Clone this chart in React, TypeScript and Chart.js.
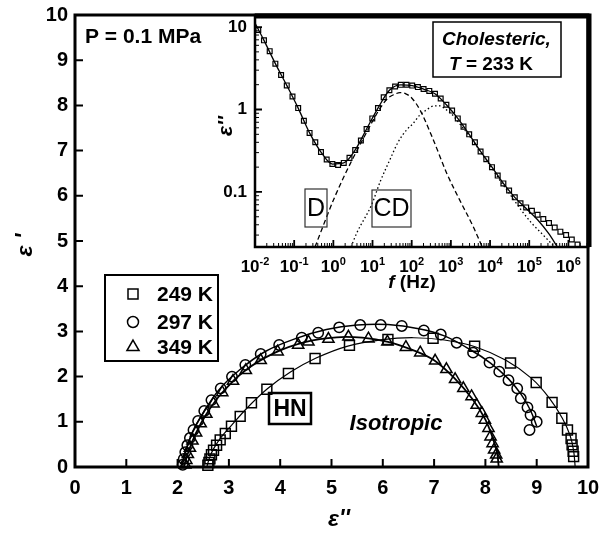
import React, { useEffect, useRef } from 'react';
import { Chart, registerables } from 'chart.js';

Chart.register(...registerables);

const FONT = "'Liberation Sans', Arial, Helvetica, sans-serif";

// ---------- main panel: Cole–Cole arcs at P = 0.1 MPa ----------
const sq249X = [2.59, 2.61, 2.63, 2.66, 2.7, 2.76, 2.83, 2.93, 3.05, 3.22, 3.44, 3.74, 4.16, 4.68, 5.35, 6.1, 6.98, 7.79, 8.49, 8.99, 9.3, 9.49, 9.6, 9.67, 9.69, 9.71, 9.72];
const sq249Y = [0.04, 0.1, 0.18, 0.27, 0.37, 0.48, 0.6, 0.74, 0.9, 1.12, 1.42, 1.72, 2.07, 2.4, 2.69, 2.82, 2.85, 2.67, 2.3, 1.87, 1.43, 1.08, 0.82, 0.63, 0.49, 0.35, 0.23];

const ci297X = [2.1, 2.12, 2.15, 2.19, 2.24, 2.31, 2.4, 2.52, 2.66, 2.84, 3.06, 3.32, 3.62, 3.98, 4.42, 4.74, 5.15, 5.56, 5.96, 6.37, 6.8, 7.13, 7.44, 7.76, 8.08, 8.27, 8.45, 8.62, 8.69, 8.82, 8.88, 9.0, 8.86];
const ci297Y = [0.05, 0.18, 0.33, 0.48, 0.64, 0.82, 1.02, 1.24, 1.48, 1.74, 2.0, 2.26, 2.5, 2.7, 2.86, 2.97, 3.09, 3.14, 3.14, 3.12, 3.02, 2.93, 2.75, 2.53, 2.31, 2.11, 1.92, 1.74, 1.52, 1.32, 1.15, 1.0, 0.82];

const tr349X = [2.15, 2.17, 2.2, 2.24, 2.29, 2.36, 2.45, 2.56, 2.7, 2.87, 3.08, 3.33, 3.62, 3.95, 4.35, 4.55, 4.94, 5.33, 5.72, 6.09, 6.45, 6.73, 7.02, 7.24, 7.41, 7.57, 7.73, 7.83, 7.93, 7.99, 8.06, 8.1, 8.14, 8.17, 8.21, 8.22];
const tr349Y = [0.05, 0.15, 0.28, 0.42, 0.58, 0.76, 0.96, 1.17, 1.4, 1.65, 1.9, 2.14, 2.36, 2.55, 2.7, 2.77, 2.83, 2.88, 2.84, 2.77, 2.65, 2.53, 2.35, 2.16, 1.94, 1.74, 1.56, 1.37, 1.19, 1.04, 0.86, 0.67, 0.52, 0.38, 0.27, 0.18];

// HN fit curves
const fit249X = [2.57, 2.62, 2.7, 2.85, 3.05, 3.35, 3.75, 4.2, 4.7, 5.3, 6.0, 6.6, 7.2, 7.8, 8.4, 8.9, 9.25, 9.5, 9.65, 9.72, 9.75];
const fit249Y = [0, 0.2, 0.4, 0.66, 0.92, 1.3, 1.73, 2.1, 2.41, 2.67, 2.82, 2.86, 2.81, 2.66, 2.36, 1.96, 1.52, 1.08, 0.7, 0.36, 0];
const fit297X = [2.08, 2.15, 2.3, 2.5, 2.8, 3.2, 3.7, 4.3, 4.9, 5.5, 6.1, 6.7, 7.2, 7.7, 8.1, 8.45, 8.7, 8.88, 9.0];
const fit297Y = [0, 0.33, 0.8, 1.2, 1.7, 2.14, 2.55, 2.84, 3.04, 3.14, 3.15, 3.06, 2.9, 2.6, 2.3, 1.95, 1.6, 1.25, 0.9];
const fit349X = [2.12, 2.2, 2.35, 2.55, 2.85, 3.3, 3.9, 4.5, 5.1, 5.6, 6.1, 6.6, 7.0, 7.4, 7.75, 8.0, 8.15, 8.23, 8.26];
const fit349Y = [0, 0.3, 0.73, 1.15, 1.62, 2.12, 2.53, 2.77, 2.87, 2.86, 2.77, 2.58, 2.36, 1.96, 1.5, 1.05, 0.62, 0.3, 0];

const mainTicks = [0, 1, 2, 3, 4, 5, 6, 7, 8, 9, 10];
const legendLabels = ['249 K', '297 K', '349 K'];

// ---------- inset: loss spectrum, cholesteric phase at 233 K ----------
const insetFreq = [0.01213, 0.01694, 0.02371, 0.03311, 0.04634, 0.06471, 0.09057, 0.1265, 0.177, 0.2472, 0.3459, 0.4831, 0.6761, 0.9441, 1.321, 1.845, 2.582, 3.606, 5.047, 7.047, 9.863, 13.77, 19.28, 26.92, 37.67, 52.6, 73.62, 102.8, 143.9, 200.9, 281.2, 392.6, 549.5, 767.4, 1074, 1500, 2099, 2931, 4102, 5728, 8017, 11190, 15670, 21880, 30620, 42760, 59840, 83560, 116900, 163300, 228600, 319200, 446700, 623700, 873000, 1219000, 1706000];
const insetEps = [9.2, 6.9, 5.1, 3.6, 2.62, 1.96, 1.44, 1.04, 0.73, 0.52, 0.4, 0.305, 0.248, 0.218, 0.212, 0.225, 0.259, 0.323, 0.42, 0.58, 0.78, 1.04, 1.41, 1.71, 1.9, 1.99, 2.0, 1.95, 1.87, 1.77, 1.68, 1.55, 1.36, 1.14, 0.97, 0.78, 0.62, 0.5, 0.4, 0.31, 0.25, 0.2, 0.158, 0.127, 0.104, 0.086, 0.073, 0.065, 0.059, 0.053, 0.047, 0.042, 0.037, 0.033, 0.03, 0.0265, 0.023];

const insetFitFreq = [0.01, 0.01694, 0.03311, 0.06471, 0.1265, 0.2472, 0.4831, 0.9441, 1.845, 3.606, 7.047, 13.77, 26.92, 52.6, 102.8, 200.9, 392.6, 767.4, 1500, 2931, 5728, 11190, 21880, 42760, 83560, 163300, 319200, 525000];
const insetFitEps = [11.2, 6.9, 3.6, 1.96, 1.04, 0.52, 0.305, 0.218, 0.225, 0.323, 0.58, 1.04, 1.71, 1.99, 1.95, 1.77, 1.55, 1.14, 0.78, 0.5, 0.31, 0.2, 0.127, 0.086, 0.063, 0.046, 0.031, 0.0215];

// Debye (D) component
const debyeFreq = [0.339, 1.096, 2.951, 5.754, 10, 15.85, 25.12, 35.48, 50.12, 70.79, 100, 162.2, 354.8, 776.2, 1698, 3715, 6310];
const debyeEps = [0.0215, 0.088, 0.24, 0.44, 0.72, 1.05, 1.38, 1.52, 1.6, 1.55, 1.38, 0.99, 0.43, 0.17, 0.079, 0.038, 0.0215];

// Cole–Davidson (CD) component
const cdFreq = [2.818, 3.981, 9.484, 15.85, 27.54, 44.67, 74.13, 109.6, 158.5, 239.9, 354.8, 501.2, 794.3, 1047, 1862, 3388, 6026, 10960, 19500, 35480, 63100, 114800, 199500, 446700];
const cdEps = [0.0215, 0.032, 0.07, 0.135, 0.244, 0.4, 0.565, 0.68, 0.85, 0.99, 1.1, 1.11, 0.98, 0.88, 0.63, 0.44, 0.295, 0.197, 0.13, 0.088, 0.06, 0.042, 0.032, 0.0215];

const insetXDecades = [-2, -1, 0, 1, 2, 3, 4, 5, 6];
const insetYTicks = [0.1, 1, 10];
const insetYTickLabels = ['0.1', '1', '10'];

const pts = (xs: number[], ys: number[]) => xs.map((x, i) => ({ x, y: ys[i] }));

type Run = { text: string; font: string; dy?: number };

function drawRuns(ctx: CanvasRenderingContext2D, runs: Run[], x: number, y: number, align: 'left' | 'center') {
  let total = 0;
  for (const r of runs) {
    ctx.font = r.font;
    total += ctx.measureText(r.text).width;
  }
  let cx = align === 'center' ? x - total / 2 : x;
  ctx.textAlign = 'left';
  for (const r of runs) {
    ctx.font = r.font;
    ctx.fillText(r.text, cx, y + (r.dy || 0));
    cx += ctx.measureText(r.text).width;
  }
}

function markerPath(ctx: CanvasRenderingContext2D, kind: number, x: number, y: number) {
  ctx.beginPath();
  if (kind === 0) {
    ctx.rect(x - 5, y - 5, 10, 10);
  } else if (kind === 1) {
    ctx.arc(x, y, 5.5, 0, Math.PI * 2);
  } else {
    const r = 7;
    ctx.moveTo(x, y - r);
    ctx.lineTo(x + 0.866 * r, y + 0.5 * r);
    ctx.lineTo(x - 0.866 * r, y + 0.5 * r);
    ctx.closePath();
  }
  ctx.stroke();
}

const mainDecor = {
  id: 'mainDecor',
  afterDraw(chart: any) {
    const { ctx, chartArea: a, scales } = chart;
    const xs = scales.x;
    const ys = scales.y;
    ctx.save();
    ctx.strokeStyle = '#000';
    ctx.fillStyle = '#000';
    ctx.lineWidth = 3;
    ctx.strokeRect(a.left, a.top, a.right - a.left, a.bottom - a.top);

    ctx.lineWidth = 2;
    ctx.beginPath();
    for (const v of mainTicks) {
      const px = xs.getPixelForValue(v);
      ctx.moveTo(px, a.bottom);
      ctx.lineTo(px, a.bottom - 8);
      const py = ys.getPixelForValue(v);
      ctx.moveTo(a.left, py);
      ctx.lineTo(a.left + 8, py);
    }
    ctx.stroke();

    ctx.font = `bold 20px ${FONT}`;
    ctx.textBaseline = 'middle';
    for (const v of mainTicks) {
      ctx.textAlign = 'center';
      ctx.fillText(String(v), xs.getPixelForValue(v), a.bottom + 21);
      ctx.textAlign = 'right';
      ctx.fillText(String(v), a.left - 7, ys.getPixelForValue(v));
    }

    // axis titles
    ctx.textAlign = 'center';
    ctx.font = `italic bold 23px ${FONT}`;
    ctx.fillText("ε''", 339, 520);
    ctx.save();
    ctx.translate(26, 245);
    ctx.rotate(-Math.PI / 2);
    ctx.fillText("ε '", 0, 0);
    ctx.restore();

    // pressure note
    ctx.textAlign = 'left';
    ctx.font = `bold 21px ${FONT}`;
    ctx.fillText('P = 0.1 MPa', 85, 37);

    // legend
    ctx.lineWidth = 2;
    ctx.strokeRect(105, 275, 113, 86);
    const rows = [294, 322, 347];
    ctx.lineWidth = 1.5;
    rows.forEach((ry, i) => markerPath(ctx, i, 133, ry));
    ctx.font = `bold 21px ${FONT}`;
    ctx.textAlign = 'left';
    rows.forEach((ry, i) => ctx.fillText(legendLabels[i], 157, ry + 1));

    // HN label
    ctx.lineWidth = 2.5;
    ctx.strokeRect(269, 393, 42, 31);
    ctx.font = `bold 23px ${FONT}`;
    ctx.textAlign = 'center';
    ctx.fillText('HN', 290, 410);

    ctx.font = `italic bold 22px ${FONT}`;
    ctx.fillText('Isotropic', 396, 424);
    ctx.restore();
  },
};

const insetDecor = {
  id: 'insetDecor',
  afterDraw(chart: any) {
    const { ctx, chartArea: a, scales } = chart;
    const xs = scales.x;
    const ys = scales.y;
    ctx.save();
    ctx.strokeStyle = '#000';
    ctx.fillStyle = '#000';

    // frame
    ctx.lineWidth = 2.5;
    ctx.strokeRect(a.left, a.top, a.right - a.left, a.bottom - a.top);
    ctx.lineWidth = 5;
    ctx.beginPath();
    ctx.moveTo(a.left, a.top + 1);
    ctx.lineTo(a.right + 1, a.top + 1);
    ctx.lineTo(a.right + 1, a.bottom);
    ctx.stroke();

    // ticks
    const xMax = xs.max;
    const yMin = ys.min;
    const yMax = ys.max;
    ctx.lineWidth = 1;
    ctx.beginPath();
    for (const d of insetXDecades) {
      for (let m = 2; m <= 9; m++) {
        const v = m * Math.pow(10, d);
        if (v > xMax) continue;
        const px = xs.getPixelForValue(v);
        ctx.moveTo(px, a.bottom);
        ctx.lineTo(px, a.bottom - 4);
      }
    }
    for (const d of [-2, -1, 0, 1]) {
      for (let m = 2; m <= 9; m++) {
        const v = m * Math.pow(10, d);
        if (v < yMin || v > yMax) continue;
        const py = ys.getPixelForValue(v);
        ctx.moveTo(a.left, py);
        ctx.lineTo(a.left + 4, py);
      }
    }
    ctx.stroke();
    ctx.lineWidth = 1.8;
    ctx.beginPath();
    for (const d of insetXDecades) {
      const px = xs.getPixelForValue(Math.pow(10, d));
      ctx.moveTo(px, a.bottom);
      ctx.lineTo(px, a.bottom - 7);
    }
    for (const v of insetYTicks) {
      const py = ys.getPixelForValue(v);
      ctx.moveTo(a.left, py);
      ctx.lineTo(a.left + 7, py);
    }
    ctx.stroke();

    // tick labels
    ctx.textBaseline = 'alphabetic';
    for (const d of insetXDecades) {
      const px = xs.getPixelForValue(Math.pow(10, d));
      drawRuns(
        ctx,
        [
          { text: '10', font: `bold 17px ${FONT}` },
          { text: String(d), font: `bold 11px ${FONT}`, dy: -7 },
        ],
        px,
        272,
        'center'
      );
    }
    ctx.textBaseline = 'middle';
    ctx.textAlign = 'right';
    ctx.font = `bold 17px ${FONT}`;
    insetYTicks.forEach((v, i) => ctx.fillText(insetYTickLabels[i], a.left - 8, ys.getPixelForValue(v)));

    // axis titles
    ctx.textBaseline = 'middle';
    drawRuns(
      ctx,
      [
        { text: 'f', font: `italic bold 19px ${FONT}` },
        { text: ' (Hz)', font: `bold 19px ${FONT}` },
      ],
      412,
      283,
      'center'
    );
    ctx.save();
    ctx.translate(226, 126);
    ctx.rotate(-Math.PI / 2);
    ctx.textAlign = 'center';
    ctx.font = `italic bold 21px ${FONT}`;
    ctx.fillText("ε''", 0, 0);
    ctx.restore();

    // phase label
    ctx.lineWidth = 1.5;
    ctx.strokeRect(433, 22, 128, 55);
    ctx.textBaseline = 'middle';
    drawRuns(ctx, [{ text: 'Cholesteric,', font: `italic bold 19px ${FONT}` }], 442, 40, 'left');
    drawRuns(
      ctx,
      [
        { text: 'T', font: `italic bold 19px ${FONT}` },
        { text: ' = 233 K', font: `bold 19px ${FONT}` },
      ],
      449,
      65,
      'left'
    );

    // component labels
    ctx.strokeStyle = '#333';
    ctx.lineWidth = 1.2;
    ctx.strokeRect(305, 189, 22, 38);
    ctx.strokeRect(372, 190, 39, 37);
    ctx.font = `25px ${FONT}`;
    ctx.textAlign = 'center';
    ctx.fillText('D', 316, 209);
    ctx.fillText('CD', 391.5, 209);
    ctx.restore();
  },
};

export default function App() {
  const mainRef = useRef<HTMLCanvasElement | null>(null);
  const insetRef = useRef<HTMLCanvasElement | null>(null);

  useEffect(() => {
    if (!mainRef.current || !insetRef.current) return;

    const fitLine = (xs: number[], ys: number[], w: number) => ({
      data: pts(xs, ys),
      showLine: true,
      borderColor: '#000',
      borderWidth: w,
      pointRadius: 0,
      tension: 0.35,
      fill: false,
    });
    const markers = (xs: number[], ys: number[], style: string, r: number) => ({
      data: pts(xs, ys),
      showLine: false,
      pointStyle: style,
      pointRadius: r,
      pointBorderWidth: 1.5,
      pointBorderColor: '#000',
      pointBackgroundColor: 'rgba(0,0,0,0)',
      clip: false,
    });

    const mainChart = new Chart(mainRef.current, {
      type: 'scatter',
      data: {
        datasets: [
          fitLine(fit249X, fit249Y, 1.2),
          fitLine(fit297X, fit297Y, 1.5),
          fitLine(fit349X, fit349Y, 1.8),
          markers(sq249X, sq249Y, 'rect', 7),
          markers(ci297X, ci297Y, 'circle', 5.2),
          markers(tr349X, tr349Y, 'triangle', 6.5),
        ] as any,
      },
      options: {
        responsive: false,
        animation: false,
        devicePixelRatio: 1,
        events: [],
        layout: { padding: { left: 75, right: 12, top: 15, bottom: 68 } },
        plugins: { legend: { display: false }, tooltip: { enabled: false } },
        scales: {
          x: { type: 'linear', min: 0, max: 10, display: false },
          y: { type: 'linear', min: 0, max: 10, display: false },
        },
      },
      plugins: [mainDecor],
    });

    const insetChart = new Chart(insetRef.current, {
      type: 'scatter',
      data: {
        datasets: [
          {
            data: pts(debyeFreq, debyeEps),
            showLine: true,
            borderColor: '#000',
            borderWidth: 1.3,
            borderDash: [5, 3],
            pointRadius: 0,
            cubicInterpolationMode: 'monotone',
          },
          {
            data: pts(cdFreq, cdEps),
            showLine: true,
            borderColor: '#000',
            borderWidth: 1.3,
            borderDash: [1.5, 2.5],
            pointRadius: 0,
            cubicInterpolationMode: 'monotone',
          },
          {
            data: pts(insetFitFreq, insetFitEps),
            showLine: true,
            borderColor: '#000',
            borderWidth: 1.3,
            pointRadius: 0,
            cubicInterpolationMode: 'monotone',
          },
          {
            data: pts(insetFreq, insetEps),
            showLine: false,
            pointStyle: 'rect',
            pointRadius: 3.4,
            pointBorderWidth: 1.2,
            pointBorderColor: '#000',
            pointBackgroundColor: 'rgba(0,0,0,0)',
          },
        ] as any,
      },
      options: {
        responsive: false,
        animation: false,
        devicePixelRatio: 1,
        events: [],
        layout: { padding: { left: 255, right: 12, top: 15, bottom: 288 } },
        plugins: { legend: { display: false }, tooltip: { enabled: false } },
        scales: {
          x: { type: 'logarithmic', min: 0.01, max: 3162278, display: false },
          y: { type: 'logarithmic', min: 0.0215, max: 14, display: false },
        },
      },
      plugins: [insetDecor],
    });

    return () => {
      mainChart.destroy();
      insetChart.destroy();
    };
  }, []);

  return (
    <div style={{ position: 'fixed', left: 0, top: 0, width: 600, height: 535, background: '#fff' }}>
      <canvas ref={mainRef} width={600} height={535} style={{ position: 'absolute', left: 0, top: 0 }} />
      <canvas ref={insetRef} width={600} height={535} style={{ position: 'absolute', left: 0, top: 0 }} />
    </div>
  );
}
